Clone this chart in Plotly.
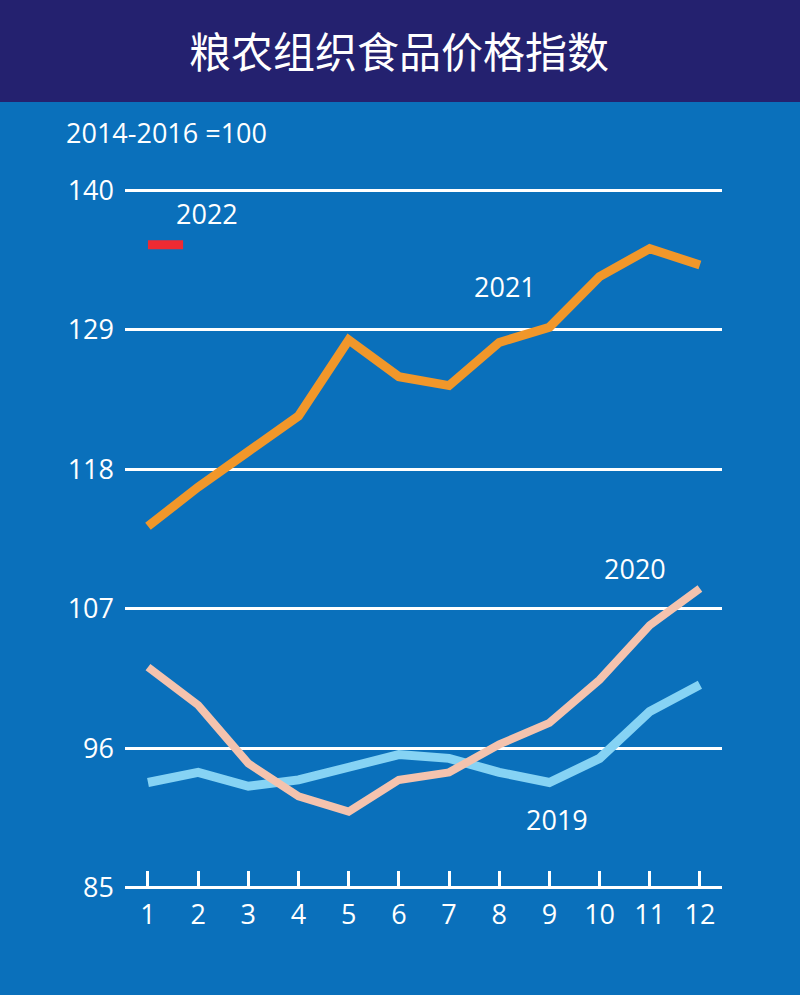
import plotly.graph_objects as go

months = list(range(1, 13))
month_labels = [str(m) for m in months]
y_ticks = [85, 96, 107, 118, 129, 140]

v2019 = [93.3, 94.1, 93.0, 93.5, 94.5, 95.5, 95.2, 94.1, 93.3, 95.2, 98.9, 101.0]
v2020 = [102.4, 99.4, 94.8, 92.2, 91.0, 93.5, 94.1, 96.3, 98.0, 101.4, 105.7, 108.6]
v2021 = [113.5, 116.6, 119.4, 122.2, 128.2, 125.3, 124.6, 128.0, 129.2, 133.2, 135.4, 134.1]
x2022 = [1, 1.7]
v2022 = [135.7, 135.7]

title_text = "粮农组织食品价格指数"
base_text = "2014-2016 =100"

BG = "#0A70BB"
NAVY = "#24216F"
NUM_FONT = "Open Sans, sans-serif"
NUM_SIZE = 27

W, H = 800, 1001
ML, MR, MT, MB = 125, 78, 189, 112
PH = H - MT - MB

def py(p):
    return (H - MB - p) / PH

def px(p):
    return (p - ML) / (W - ML - MR)

fig = go.Figure()
fig.add_trace(go.Scatter(x=months, y=v2019, mode="lines",
                         line=dict(color="#86D3F4", width=9), hoverinfo="skip"))
fig.add_trace(go.Scatter(x=months, y=v2020, mode="lines",
                         line=dict(color="#F4C3AE", width=8), hoverinfo="skip"))
fig.add_trace(go.Scatter(x=months, y=v2021, mode="lines",
                         line=dict(color="#F1972A", width=9), hoverinfo="skip"))
fig.add_trace(go.Scatter(x=x2022, y=v2022, mode="lines",
                         line=dict(color="#EE2A33", width=9), hoverinfo="skip"))

labels = [("2021", 8.11, 132.4), ("2020", 10.70, 110.2),
          ("2019", 9.15, 90.35), ("2022", 2.18, 138.2)]
for t, xx, yy in labels:
    fig.add_annotation(x=xx, y=yy, xref="x", yref="y", text=t, showarrow=False,
                       xanchor="center", yanchor="middle",
                       font=dict(family=NUM_FONT, size=NUM_SIZE, color="white"))

fig.add_annotation(x=px(399), y=py(50), xref="paper", yref="paper", text=title_text,
                   showarrow=False, xanchor="center", yanchor="middle",
                   font=dict(family="Noto Sans CJK SC", size=42, color="white"))
fig.add_annotation(x=px(64), y=py(133), xref="paper", yref="paper", text=base_text,
                   showarrow=False, xanchor="left", yanchor="middle",
                   font=dict(family=NUM_FONT, size=NUM_SIZE, color="white"))

fig.add_shape(type="rect", xref="paper", yref="paper", x0=-1, x1=2, y0=py(102), y1=py(-5),
              fillcolor=NAVY, line_width=0, layer="below")
fig.add_shape(type="rect", xref="paper", yref="paper", x0=-1, x1=2, y0=py(1010), y1=py(995),
              fillcolor="white", line_width=0, layer="below")

fig.update_layout(
    width=W, height=H, margin=dict(l=ML, r=MR, t=MT, b=MB),
    paper_bgcolor=BG, plot_bgcolor=BG, showlegend=False,
    xaxis=dict(range=[0.542, 12.44], tickvals=months, ticktext=month_labels,
               showgrid=False, zeroline=False, showline=False,
               ticks="inside", ticklen=18, tickwidth=2.5, tickcolor="white",
               ticklabelstandoff=7,
               tickfont=dict(family=NUM_FONT, size=NUM_SIZE, color="white")),
    yaxis=dict(range=[84.9, 140.1], tickvals=y_ticks, showgrid=True, gridcolor="white",
               gridwidth=3, zeroline=False, showline=False, ticks="",
               ticklabelstandoff=10,
               tickfont=dict(family=NUM_FONT, size=NUM_SIZE, color="white")),
)

fig.write_html("out.html", config={"displayModeBar": False},
               post_script="document.body.style.margin='0';document.body.style.padding='0';")
